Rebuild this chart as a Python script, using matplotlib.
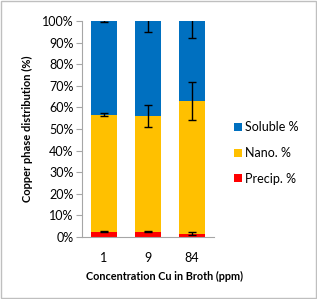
import numpy as np
import matplotlib.pyplot as plt
from matplotlib.ticker import PercentFormatter

# Data
categories = ['1', '9', '84']
precip = np.array([2.5, 2.5, 1.5])
nano = np.array([54.0, 53.5, 61.5])
soluble = 100 - precip - nano
precip_err = [0.3, 0.3, 0.7]
nano_err = [0.7, 5.0, 8.7]
soluble_err = [0.6, 5.0, 8.0]

plt.rcParams['font.family'] = ['Lato', 'DejaVu Sans']

W, H = 317, 299
fig = plt.figure(figsize=(W / 100, H / 100), dpi=100)
ax = fig.add_axes([82 / W, 1 - 237 / H, 132 / W, 216 / H])

x = np.arange(len(categories))
w = 0.59
ekw = dict(elinewidth=1, capthick=1, capsize=3, ecolor='black')
ax.bar(x, precip, w, color='#FF0000', label='Precip. %',
       yerr=precip_err, error_kw=ekw)
ax.bar(x, nano, w, bottom=precip, color='#FFC000', label='Nano. %',
       yerr=nano_err, error_kw=ekw)
ax.bar(x, soluble, w, bottom=precip + nano, color='#0070C0', label='Soluble %',
       yerr=soluble_err, error_kw=ekw)

ax.set_xlim(-0.5, 2.5)
ax.set_ylim(0, 100)
ax.set_yticks(np.arange(0, 101, 10))
ax.yaxis.set_major_formatter(PercentFormatter(decimals=0))
ax.set_xticks(x)
ax.set_xticklabels(categories)
ax.tick_params(axis='y', labelsize=9, length=4, color='#A6A6A6', pad=2)
ax.tick_params(axis='x', labelsize=9, length=0, pad=11)
for s in ['top', 'right']:
    ax.spines[s].set_visible(False)
for s in ['left', 'bottom']:
    ax.spines[s].set_color('#A6A6A6')

# axis titles placed where the reference has them
fig.text(86 / W, 1 - 276 / H, 'Concentration Cu in Broth (ppm)',
         fontsize=7.8, fontweight='bold', ha='left', va='center')
fig.text(27 / W, 1 - 129 / H, 'Copper phase distribution (%)',
         fontsize=8, fontweight='bold', ha='center', va='center',
         rotation=90)

handles, labels = ax.get_legend_handles_labels()
leg = fig.legend(handles[::-1], labels[::-1], loc='center left',
                 bbox_to_anchor=(234 / W, 1 - 153 / H), frameon=False,
                 fontsize=9, handlelength=0.6, handleheight=0.6,
                 handletextpad=0.3, labelspacing=1.1, borderpad=0,
                 borderaxespad=0)

fig.patches.append(plt.Rectangle((0.003, 0.003), 0.994, 0.994,
                                 transform=fig.transFigure, fill=False,
                                 edgecolor='#BFBFBF', linewidth=1))

fig.savefig('out.png', dpi=100)
